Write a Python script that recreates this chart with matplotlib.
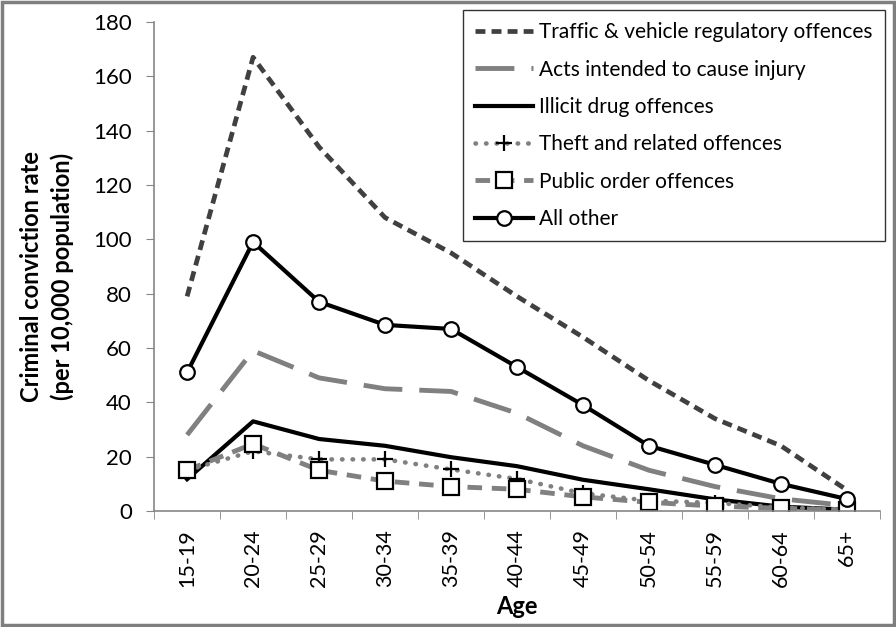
import matplotlib.pyplot as plt
from matplotlib.patches import Rectangle

plt.rcParams['font.family'] = ['Lato', 'DejaVu Sans']

ages = ['15-19', '20-24', '25-29', '30-34', '35-39', '40-44',
        '45-49', '50-54', '55-59', '60-64', '65+']

traffic = [79, 167, 134, 108, 95, 79, 64, 48, 34, 24, 7.7]
injury = [28, 59, 49, 45, 44, 36, 24, 15, 9, 4.5, 2]
drug = [11.7, 33, 26.5, 24, 19.8, 16.5, 11.5, 8, 4.3, 1.6, 0.5]
theft = [15, 22, 19, 19, 15.3, 11.8, 6.5, 3.8, 3, 1.3, 0.5]
public_order = [15, 24.7, 15, 11, 9, 8, 5.2, 3.2, 1.8, 1, 0.4]
all_other = [51, 99, 77, 68.5, 67, 53, 39, 24, 17, 10, 4.4]

x = list(range(len(ages)))

fig = plt.figure(figsize=(8.96, 6.27), dpi=100)
ax = fig.add_axes([0.172, 0.185, 0.81, 0.78])

ax.plot(x, traffic, color='#404040', lw=3.4, ls=(0, (2.1, 1.3)),
        label='Traffic & vehicle regulatory offences')
ax.plot(x, injury, color='#808080', lw=3.5, ls=(0, (8, 3.5)),
        label='Acts intended to cause injury')
ax.plot(x, drug, color='black', lw=3, label='Illicit drug offences')
# round dots, spaced out like the original
ax.plot(x, theft, color='#808080', lw=3.3, ls=(0, (0.1, 2.2)),
        dash_capstyle='round', marker='+', ms=11, mec='black', mew=1.6,
        label='Theft and related offences')
ax.plot(x, public_order, color='#808080', lw=3.5, ls=(0, (3, 2)),
        marker='s', ms=11, mfc='white', mec='black', mew=1.6,
        label='Public order offences')
ax.plot(x, all_other, color='black', lw=3, marker='o', ms=10.5,
        mfc='white', mec='black', mew=1.6, label='All other')

ax.set_xlim(-0.5, 10.5)
ax.set_ylim(0, 180)
ax.set_yticks(range(0, 181, 20))
ax.set_xticks(x)
ax.set_xticklabels(ages, rotation=90)
ax.set_xticks([i - 0.5 for i in range(len(ages) + 1)], minor=True)
ax.tick_params(axis='x', which='major', length=0, pad=13, labelsize=15.5)
ax.tick_params(axis='x', which='minor', length=6, color='#868686')
ax.tick_params(axis='y', length=6, color='#868686', labelsize=16, pad=10)

for s in ['top', 'right']:
    ax.spines[s].set_visible(False)
for s in ['left', 'bottom']:
    ax.spines[s].set_color('#868686')
    ax.spines[s].set_linewidth(1.2)

ax.set_xlabel('Age', fontsize=17, fontweight='bold')
ax.xaxis.set_label_coords(0.5, -0.172)
ax.set_ylabel('Criminal conviction rate\n(per 10,000 population)',
              fontsize=17, fontweight='bold', linespacing=1.35)
ax.yaxis.set_label_coords(-0.111, 0.48)

leg = ax.legend(loc='upper left', bbox_to_anchor=(0.4256, 1.0245),
                fontsize=15, frameon=True, fancybox=False,
                edgecolor='black', handlelength=2.75, handletextpad=0.3,
                labelspacing=0.83, borderpad=0.6, borderaxespad=0)
leg.get_frame().set_linewidth(1.0)

fig.patches.append(Rectangle((0.002, 0.003), 0.996, 0.994,
                             transform=fig.transFigure, fill=False,
                             edgecolor='#7f7f7f', lw=2.5))

fig.savefig('out.png', dpi=100)
